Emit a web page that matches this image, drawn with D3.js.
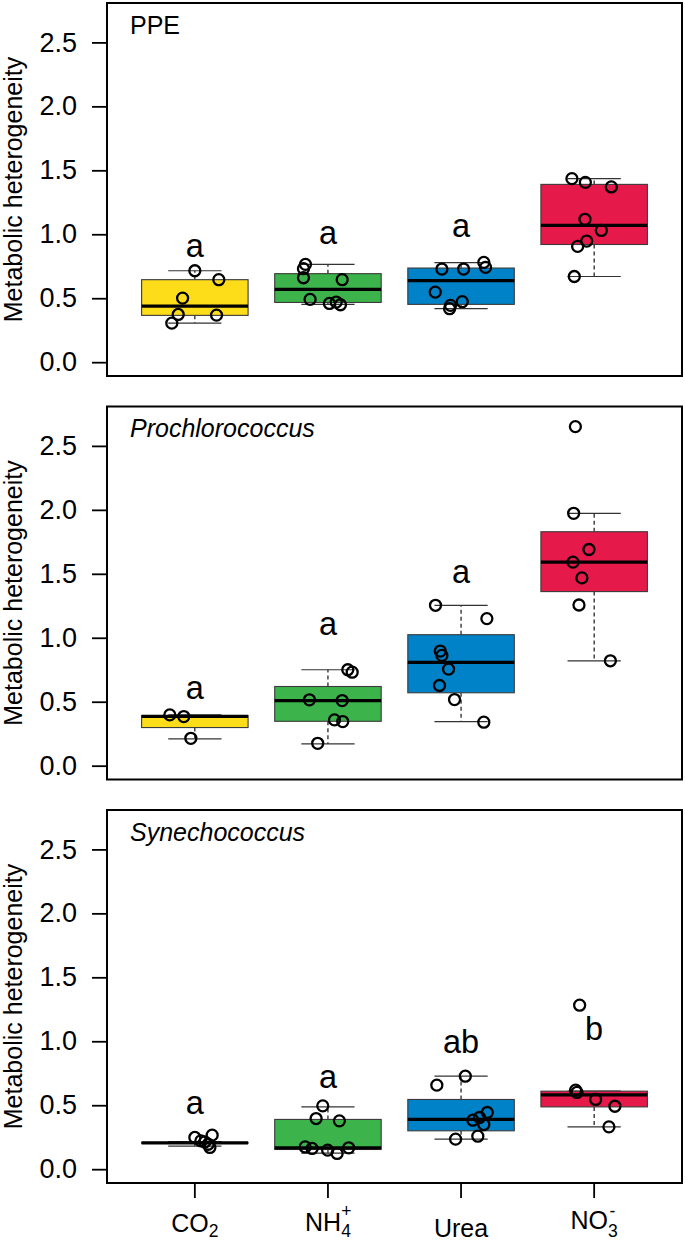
<!DOCTYPE html>
<html>
<head>
<meta charset="utf-8">
<script src="https://cdn.jsdelivr.net/npm/d3@7"></script>
<style>
  html, body { margin: 0; padding: 0; background: #fff; }
  svg { display: block; font-family: "Liberation Sans", Arial, sans-serif; }
</style>
</head>
<body>
<svg id="chart" width="685" height="1240"></svg>
<script>
// ---------------- data ----------------
const categories = ["CO2", "NH4+", "Urea", "NO3-"];
const panelTitles = ["PPE", "Prochlorococcus", "Synechococcus"];
const boxColors = ["#FDDC1A", "#3CB44B", "#0082C8", "#E6194B"];
const yTicks = [0.0, 0.5, 1.0, 1.5, 2.0, 2.5];
const yTickLabels = ["0.0", "0.5", "1.0", "1.5", "2.0", "2.5"];
const yTitle = "Metabolic heterogeneity";

// box stats per category: [lower whisker, Q1, median, Q3, upper whisker]
const ppeStats = [
  [0.305, 0.366, 0.438, 0.645, 0.715],
  [0.452, 0.467, 0.569, 0.692, 0.765],
  [0.418, 0.452, 0.637, 0.736, 0.778],
  [0.670, 0.920, 1.070, 1.390, 1.435]
];
const proStats = [
  [0.209, 0.298, 0.386, 0.392, 0.397],
  [0.170, 0.347, 0.509, 0.619, 0.750],
  [0.345, 0.570, 0.807, 1.024, 1.254],
  [0.820, 1.361, 1.591, 1.829, 1.973]
];
const synStats = [
  [0.180, 0.203, 0.206, 0.209, 0.215],
  [0.125, 0.154, 0.167, 0.389, 0.487],
  [0.235, 0.300, 0.389, 0.545, 0.727],
  [0.331, 0.487, 0.581, 0.610, 0.610]
];

// observations per category: values and jitter (in category units)
const ppeValues = [
  [0.715, 0.645, 0.501, 0.373, 0.368, 0.305],
  [0.765, 0.731, 0.660, 0.645, 0.491, 0.459, 0.470, 0.449],
  [0.728, 0.728, 0.780, 0.741, 0.548, 0.473, 0.444, 0.418],
  [1.435, 1.406, 1.370, 1.117, 1.030, 0.947, 0.905, 0.670]
];
const ppeJitter = [
  [0.000, 0.180, -0.092, -0.125, 0.163, -0.173],
  [-0.169, -0.184, -0.184, 0.107, -0.134, 0.011, 0.062, 0.094],
  [-0.144, 0.019, 0.171, 0.184, -0.194, 0.009, -0.079, -0.086],
  [-0.167, -0.066, 0.129, -0.069, 0.054, -0.056, -0.124, -0.149]
];
const proValues = [
  [0.397, 0.384, 0.214],
  [0.515, 0.509, 0.750, 0.731, 0.345, 0.358, 0.175],
  [1.254, 1.150, 0.896, 0.862, 0.755, 0.627, 0.517, 0.340],
  [2.651, 1.973, 1.690, 1.591, 1.468, 1.256, 0.820]
];
const proJitter = [
  [-0.188, -0.083, -0.030],
  [-0.139, 0.107, 0.149, 0.182, 0.111, 0.049, -0.077],
  [-0.192, 0.194, -0.156, -0.144, -0.094, -0.162, -0.049, 0.171],
  [-0.141, -0.154, -0.039, -0.159, -0.092, -0.114, 0.122]
];
const synValues = [
  [0.248, 0.266, 0.221, 0.213, 0.195, 0.170],
  [0.495, 0.396, 0.378, 0.174, 0.162, 0.149, 0.123, 0.167],
  [0.727, 0.657, 0.443, 0.404, 0.383, 0.349, 0.258, 0.235],
  [1.282, 0.618, 0.600, 0.545, 0.492, 0.331]
];
const synJitter = [
  [0.000, 0.130, 0.045, 0.075, 0.100, 0.113],
  [-0.039, -0.089, 0.086, -0.171, -0.119, -0.002, 0.069, 0.156],
  [0.032, -0.182, 0.197, 0.139, 0.089, 0.171, 0.126, -0.041],
  [-0.109, -0.139, -0.129, 0.011, 0.156, 0.111]
];

// significance letters and their baseline value
const ppeLetters = ["a", "a", "a", ""];
const ppeLetterY = [0.820, 0.926, 0.978, 0];
const proLetters = ["a", "a", "a", ""];
const proLetterY = [0.523, 1.019, 1.432, 0];
const synLetters = ["a", "a", "ab", "b"];
const synLetterY = [0.430, 0.631, 0.909, 1.009];

// x-axis label pieces
const xMain = ["CO", "NH", "Urea", "NO"];
const xSub = ["2", "4", "", "3"];
const xSup = ["", "+", "", "-"];

const panels = [
  { title: panelTitles[0], italic: false, stats: ppeStats, values: ppeValues, jitter: ppeJitter, letters: ppeLetters, letterY: ppeLetterY },
  { title: panelTitles[1], italic: true,  stats: proStats, values: proValues, jitter: proJitter, letters: proLetters, letterY: proLetterY },
  { title: panelTitles[2], italic: true,  stats: synStats, values: synValues, jitter: synJitter, letters: synLetters, letterY: synLetterY }
];

// ---------------- layout ----------------
const svg = d3.select("#chart");
const left = 107, right = 682;
const panelTops = [3, 406.5, 810];
const panelH = 373;
const FS = 25;
const TICKFS = 27;

const xIdx = d3.scaleLinear().domain([0.34, 4.66]).range([left, right]);
const xPos = i => xIdx(i + 1);
const unit = xIdx(1) - xIdx(0);

panels.forEach((p, pi) => {
  const top = panelTops[pi];
  const y = d3.scaleLinear().domain([-0.108, 2.808]).range([top + panelH, top]);
  const g = svg.append("g");

  // y axis
  const yAxis = d3.axisLeft(y).tickValues(yTicks).tickFormat((d, i) => yTickLabels[i])
    .tickSize(15).tickPadding(15);
  const ga = g.append("g").attr("transform", `translate(${left},0)`).call(yAxis);
  ga.select(".domain").remove();
  ga.selectAll(".tick line").attr("stroke", "#000").attr("stroke-width", 1.8);
  ga.selectAll(".tick text").attr("font-size", TICKFS).attr("fill", "#000")
    .attr("font-family", "Liberation Sans, Arial, sans-serif");

  // y title
  g.append("text")
    .attr("transform", `translate(22,${top + panelH / 2}) rotate(-90)`)
    .attr("text-anchor", "middle")
    .attr("font-size", FS)
    .text(yTitle);

  // boxes
  p.stats.forEach((s, i) => {
    const cx = xPos(i);
    const [lo, q1, med, q3, hi] = s;
    const bw = 0.4 * unit, cw = 0.2 * unit;
    // whiskers (dashed)
    g.append("line").attr("x1", cx).attr("x2", cx).attr("y1", y(q3)).attr("y2", y(hi))
      .attr("stroke", "#000").attr("stroke-width", 1.1).attr("stroke-dasharray", "4,3");
    g.append("line").attr("x1", cx).attr("x2", cx).attr("y1", y(q1)).attr("y2", y(lo))
      .attr("stroke", "#000").attr("stroke-width", 1.1).attr("stroke-dasharray", "4,3");
    // caps
    [lo, hi].forEach(v => {
      g.append("line").attr("x1", cx - cw).attr("x2", cx + cw).attr("y1", y(v)).attr("y2", y(v))
        .attr("stroke", "#333").attr("stroke-width", 1.2);
    });
    // box
    g.append("rect").attr("x", cx - bw).attr("width", 2 * bw)
      .attr("y", y(q3)).attr("height", Math.max(0.5, y(q1) - y(q3)))
      .attr("fill", boxColors[i]).attr("stroke", "#3a3a3a").attr("stroke-width", 1.1);
    // median
    g.append("line").attr("x1", cx - bw).attr("x2", cx + bw).attr("y1", y(med)).attr("y2", y(med))
      .attr("stroke", "#000").attr("stroke-width", 3.2);
  });

  // points
  p.values.forEach((vals, i) => {
    vals.forEach((v, k) => {
      g.append("circle")
        .attr("cx", xIdx(i + 1 + p.jitter[i][k]))
        .attr("cy", y(v))
        .attr("r", 5.5)
        .attr("fill", "none")
        .attr("stroke", "#000")
        .attr("stroke-width", 2.3);
    });
  });

  // letters
  p.letters.forEach((L, i) => {
    if (!L) return;
    g.append("text").attr("x", xPos(i)).attr("y", y(p.letterY[i]))
      .attr("text-anchor", "middle").attr("font-size", 32.5).text(L);
  });

  // panel title
  g.append("text").attr("x", 130).attr("y", top + 30.5)
    .attr("font-size", FS)
    .attr("font-style", p.italic ? "italic" : "normal")
    .text(p.title);

  // frame
  g.append("rect").attr("x", left).attr("y", top).attr("width", right - left).attr("height", panelH)
    .attr("fill", "none").attr("stroke", "#000").attr("stroke-width", 2);

  // x axis only on last panel
  if (pi === panels.length - 1) {
    const bottom = top + panelH;
    categories.forEach((c, i) => {
      g.append("line").attr("x1", xPos(i)).attr("x2", xPos(i))
        .attr("y1", bottom).attr("y2", bottom + 15)
        .attr("stroke", "#000").attr("stroke-width", 1.8);
    });
    const subFS = 17.5;
    categories.forEach((c, i) => {
      const cx = xPos(i);
      const hasSub = xSub[i] !== "", hasSup = xSup[i] !== "";
      let base = 1236.5;
      if (hasSub && hasSup) base = i === 3 ? 1228.5 : 1231;
      else if (hasSub) base = 1232;
      const mt = g.append("text").attr("y", base).attr("font-size", FS).text(xMain[i]);
      const mw = mt.node().getComputedTextLength();
      let sw = 0;
      let st;
      if (hasSub) {
        st = g.append("text").attr("y", 1237).attr("font-size", subFS).text(xSub[i]);
        sw = st.node().getComputedTextLength();
      }
      const total = mw + sw;
      const x0 = cx - total / 2;
      mt.attr("x", x0);
      if (st) st.attr("x", x0 + mw);
      if (hasSup) {
        g.append("text").attr("x", x0 + mw + (xSup[i] === "-" ? 1.5 : 0))
          .attr("y", xSup[i] === "-" ? 1217 : 1216.5)
          .attr("font-size", subFS).text(xSup[i]);
      }
    });
  }
});
</script>
</body>
</html>
